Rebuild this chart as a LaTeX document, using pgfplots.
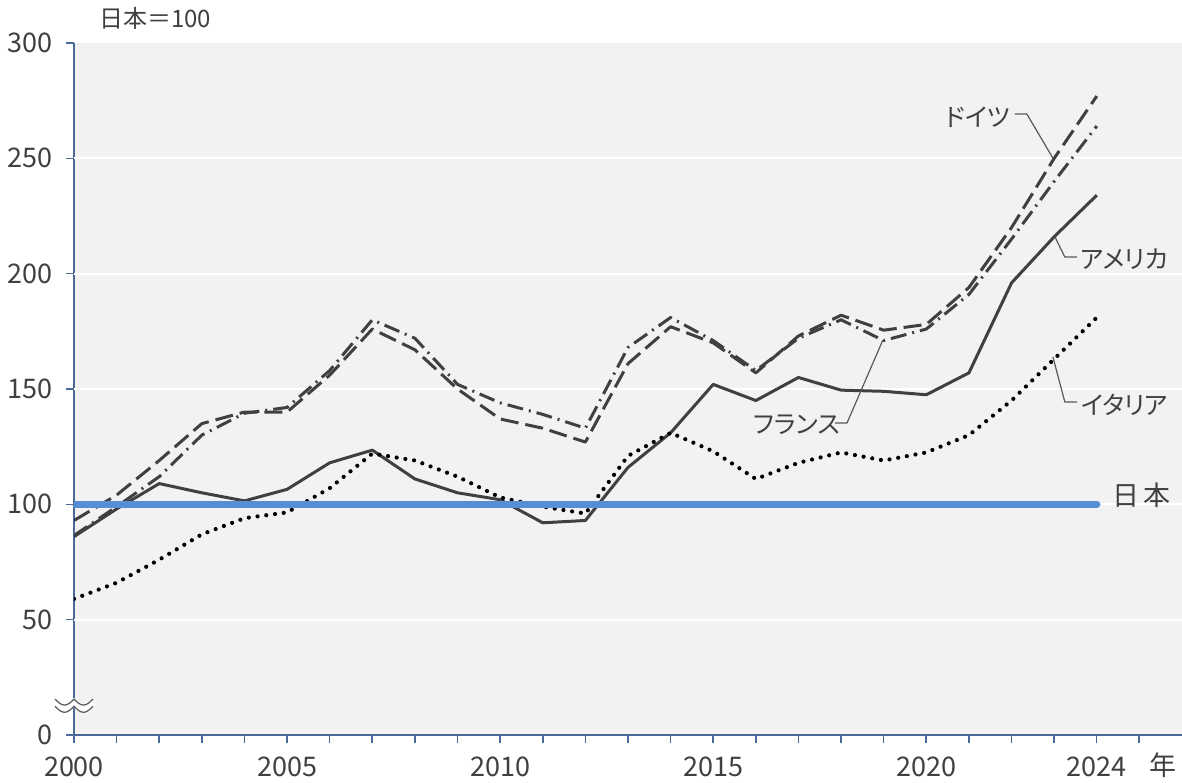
\documentclass[border=0pt]{standalone}
\usepackage{fontspec}
\setmainfont{Noto Sans CJK JP}[RawFeature=+palt]
\usepackage{pgfplots}
\usepackage{pgfplotstable}
\pgfplotsset{compat=1.18}
\definecolor{bg}{HTML}{F2F2F2}
\definecolor{ax}{HTML}{4A6B9A}
\definecolor{ln}{HTML}{404040}
\definecolor{txt}{HTML}{404040}
\definecolor{jp}{HTML}{558ED5}
\definecolor{lead}{HTML}{595959}

\pgfplotstableread{
year usa ger fra ita
2000 86 93 86.5 59
2001 98 104 99 66
2002 109 119 112 76
2003 105 135 130 87
2004 101.5 140 139.5 94
2005 106.5 140 142 96.5
2006 118 156 158 107
2007 123.5 176 180 122
2008 111 167 172 119
2009 105 150 152 112
2010 102 137 144 103
2011 92 133 139 99
2012 93 127 133 96
2013 116 161 168 121
2014 131 177 181 131
2015 152 170 171 123
2016 145 157 158 111
2017 155 173 172 118
2018 149.5 182 180 122.5
2019 149 175.5 171 119
2020 147.5 178 176 122.5
2021 157 194 191 130
2022 196 220 215 145
2023 216 250 240 163
2024 234 277 264 181
}\data

\begin{document}
\begin{tikzpicture}
\useasboundingbox (-37pt,-23.5pt) rectangle (554pt,367.5pt);
\begin{axis}[
  at={(0,0)}, anchor=south west,
  scale only axis, width=554pt, height=346pt,
  xmin=2000, xmax=2026, ymin=0, ymax=300,
  axis background/.style={fill=bg},
  axis x line*=bottom, axis y line*=left,
  axis line style={ax, line width=0.9pt},
  tick align=outside, tick pos=left,
  major tick length=4pt,
  tick style={ax, line width=0.8pt},
  xtick={2000,...,2025},
  xticklabels={2000,,,,,2005,,,,,2010,,,,,2015,,,,,2020,,,,2024,},
  ytick={0,50,...,300},
  extra y ticks={50,100,150,200,250},
  extra y tick labels={},
  extra y tick style={grid=major, major tick length=0pt},
  grid style={white, line width=1pt},
  /pgf/number format/assume math mode=true,
  ticklabel style={font=\fontsize{13.5}{16}\selectfont, text=txt},
  xticklabel style={yshift=-3.5pt},
  yticklabel style={xshift=-3pt},
  clip mode=individual,
]
\addplot[ln, line width=1.5pt, line join=round] table[x=year,y=usa]{\data};
\addplot[ln, line width=1.5pt, line join=round, dash pattern=on 9pt off 3.5pt] table[x=year,y=ger]{\data};
\addplot[ln, line width=1.5pt, line join=round, dash pattern=on 8pt off 3pt on 1pt off 3pt] table[x=year,y=fra]{\data};
\addplot[black, line width=2.1pt, line cap=round, dash pattern=on 0pt off 4.4pt] table[x=year,y=ita]{\data};
\addplot[jp, line width=3.6pt, line cap=round] coordinates {(2000,100) (2024,100)};

\draw[lead, line width=0.6pt] (axis cs:2022.08,269.2) -- (axis cs:2022.36,269.2) -- (axis cs:2022.97,250.1);
\draw[lead, line width=0.6pt] (axis cs:2023.02,215.9) -- (axis cs:2023.25,207.2) -- (axis cs:2023.54,207.2);
\draw[lead, line width=0.6pt] (axis cs:2017.86,135.3) -- (axis cs:2018.14,135.3) -- (axis cs:2018.98,171.2);
\draw[lead, line width=0.6pt] (axis cs:2022.97,163.9) -- (axis cs:2023.25,144.4) -- (axis cs:2023.54,144.4);

\node[text=txt, font=\fontsize{12.5}{15}\selectfont] at (axis cs:2021.21,267.9) {ドイツ};
\node[text=txt, font=\fontsize{12.5}{15}\selectfont] at (axis cs:2024.65,206.4) {アメリカ};
\node[text=txt, font=\fontsize{12.5}{15}\selectfont] at (axis cs:2016.97,134.4) {フランス};
\node[text=txt, font=\fontsize{12.5}{15}\selectfont] at (axis cs:2024.65,143.1) {イタリア};
\node[text=txt, font=\fontsize{13.5}{16}\selectfont] at (axis cs:2025.06,104) {日\hspace{0.15em}本};
\node[text=txt, font=\fontsize{12}{14}\selectfont, anchor=west] at (axis cs:2000,300) [xshift=9pt, yshift=12.5pt] {日本＝100};
\node[text=txt, font=\fontsize{13.5}{16}\selectfont] at (axis cs:2025.55,0) [yshift=-15pt] {年};
\coordinate (brk) at (axis cs:2000,14);
\end{axis}
\begin{scope}[shift={(brk)}]
\draw[white, line width=3.5pt] (-9.5pt,0) sin (-4.75pt,-3pt) cos (0,0) sin (4.75pt,-3pt) cos (9.5pt,0);
\draw[lead, line width=0.6pt] (-9.5pt,1.8pt) sin (-4.75pt,-1.2pt) cos (0,1.8pt) sin (4.75pt,-1.2pt) cos (9.5pt,1.8pt);
\draw[lead, line width=0.6pt] (-9.5pt,-1.8pt) sin (-4.75pt,-4.8pt) cos (0,-1.8pt) sin (4.75pt,-4.8pt) cos (9.5pt,-1.8pt);
\end{scope}
\end{tikzpicture}
\end{document}
